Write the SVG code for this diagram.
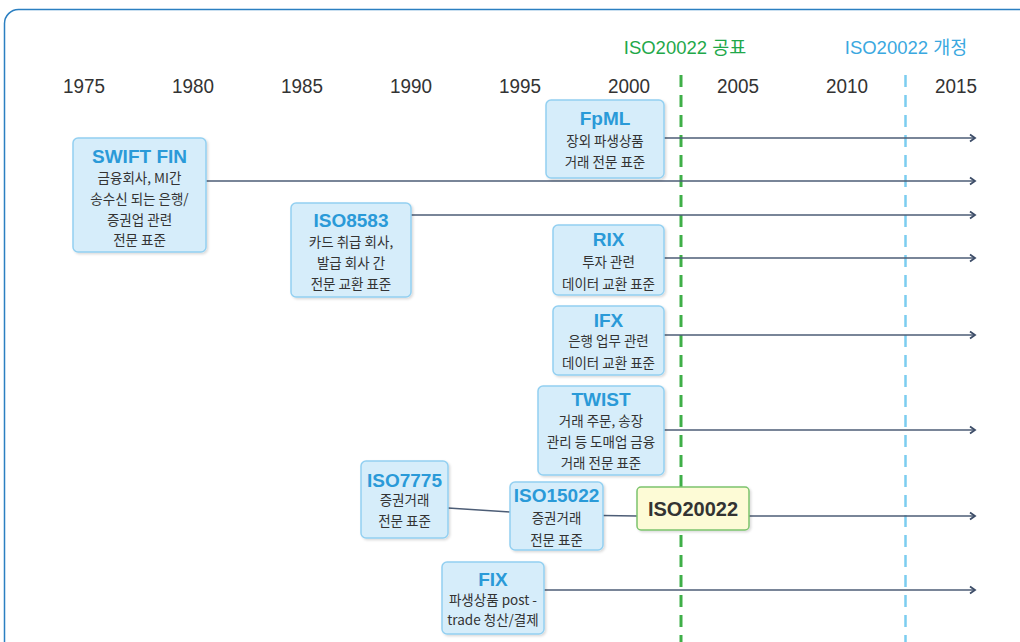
<svg xmlns="http://www.w3.org/2000/svg" width="1020" height="642" viewBox="0 0 1020 642">
<style>
.yr{font-family:"Liberation Sans",Arial,sans-serif;font-size:20px;fill:#333;text-anchor:middle}
.node rect{fill:#d6edfa;stroke:#93d0f1;stroke-width:1.5}
.tt{font-family:"Liberation Sans",Arial,sans-serif;font-weight:bold;font-size:19px;fill:#2a9ad8;text-anchor:middle}
.bd{font-family:"Noto Sans CJK KR","Liberation Sans",sans-serif;font-size:13.5px;fill:#333;text-anchor:middle}
.ln{stroke:#4d5d76;stroke-width:1.5;fill:none}
.arr{stroke:#4d5d76;stroke-width:1.5;fill:none;marker-end:url(#ah)}
.mk{font-family:"Liberation Sans","Noto Sans CJK KR",sans-serif;font-size:18.5px;text-anchor:middle}
</style>
<defs>
<marker id="ah" markerWidth="10" markerHeight="10" refX="7" refY="5" orient="auto" markerUnits="userSpaceOnUse">
<path d="M2,1.5 L7,5 L2,8.5" fill="none" stroke="#3d4d68" stroke-width="1.8"/>
</marker>
<filter id="sh" x="-10%" y="-10%" width="125%" height="125%">
<feDropShadow dx="1.5" dy="1.5" stdDeviation="1" flood-color="#000" flood-opacity="0.15"/>
</filter>
</defs>
<rect width="1020" height="642" fill="#fff"/>
<rect x="4.5" y="9.5" width="1040" height="660" rx="14" fill="none" stroke="#2b7fc1" stroke-width="1.5"/>

<g id="years">
<text class="yr" x="84" y="93" textLength="42" lengthAdjust="spacingAndGlyphs">1975</text>
<text class="yr" x="193" y="93" textLength="42" lengthAdjust="spacingAndGlyphs">1980</text>
<text class="yr" x="302" y="93" textLength="42" lengthAdjust="spacingAndGlyphs">1985</text>
<text class="yr" x="411" y="93" textLength="42" lengthAdjust="spacingAndGlyphs">1990</text>
<text class="yr" x="520" y="93" textLength="42" lengthAdjust="spacingAndGlyphs">1995</text>
<text class="yr" x="629" y="93" textLength="42" lengthAdjust="spacingAndGlyphs">2000</text>
<text class="yr" x="738" y="93" textLength="42" lengthAdjust="spacingAndGlyphs">2005</text>
<text class="yr" x="847" y="93" textLength="42" lengthAdjust="spacingAndGlyphs">2010</text>
<text class="yr" x="956" y="93" textLength="42" lengthAdjust="spacingAndGlyphs">2015</text>
</g>
<g id="milestones">
<text class="mk" x="685" y="54" fill="#1fa84a">ISO20022 공표</text>
<text class="mk" x="906" y="54" fill="#3aa8e0">ISO20022 개정</text>
<line x1="681" y1="75" x2="681" y2="642" stroke="#3faf48" stroke-width="3" stroke-dasharray="12,8"/>
<line x1="905.5" y1="75" x2="905.5" y2="642" stroke="#7ccdf0" stroke-width="2.5" stroke-dasharray="12,8"/>
</g>

<g id="connectors">
<line class="arr" x1="664" y1="138" x2="975" y2="138"/>
<line class="arr" x1="206" y1="181" x2="975" y2="181"/>
<line class="arr" x1="411" y1="215" x2="975" y2="215"/>
<line class="arr" x1="664" y1="258" x2="975" y2="258"/>
<line class="arr" x1="664" y1="335" x2="975" y2="335"/>
<line class="arr" x1="664" y1="430" x2="975" y2="430"/>
<line class="ln" x1="448" y1="508" x2="510" y2="512"/>
<line class="ln" x1="603" y1="515.5" x2="637" y2="516"/>
<line class="arr" x1="749" y1="516" x2="975" y2="516"/>
<line class="arr" x1="544" y1="590" x2="975" y2="590"/>
</g>

<g id="n-fpml" class="node"><rect x="546" y="100" width="118" height="78" rx="5" filter="url(#sh)"/>
<text class="tt" x="605" y="125">FpML</text>
<text class="bd" x="605" y="146">장외 파생상품</text>
<text class="bd" x="605" y="167">거래 전문 표준</text></g>

<g id="n-swift" class="node"><rect x="73" y="138" width="133" height="114" rx="5" filter="url(#sh)"/>
<text class="tt" x="139.5" y="163">SWIFT FIN</text>
<text class="bd" x="139.5" y="183">금융회사, MI간</text>
<text class="bd" x="139.5" y="204">송수신 되는 은행/</text>
<text class="bd" x="139.5" y="225">증권업 관련</text>
<text class="bd" x="139.5" y="245">전문 표준</text></g>

<g id="n-iso8583" class="node"><rect x="291" y="203" width="120" height="94" rx="5" filter="url(#sh)"/>
<text class="tt" x="351" y="227">ISO8583</text>
<text class="bd" x="351" y="247">카드 취급 회사,</text>
<text class="bd" x="351" y="268">발급 회사 간</text>
<text class="bd" x="351" y="289">전문 교환 표준</text></g>

<g id="n-rix" class="node"><rect x="553" y="225" width="111" height="70" rx="5" filter="url(#sh)"/>
<text class="tt" x="608.5" y="246">RIX</text>
<text class="bd" x="608.5" y="267">투자 관련</text>
<text class="bd" x="608.5" y="289">데이터 교환 표준</text></g>

<g id="n-ifx" class="node"><rect x="553" y="306" width="111" height="69" rx="5" filter="url(#sh)"/>
<text class="tt" x="608.5" y="327">IFX</text>
<text class="bd" x="608.5" y="346">은행 업무 관련</text>
<text class="bd" x="608.5" y="368">데이터 교환 표준</text></g>

<g id="n-twist" class="node"><rect x="538" y="386" width="126" height="89" rx="5" filter="url(#sh)"/>
<text class="tt" x="601" y="406">TWIST</text>
<text class="bd" x="601" y="426">거래 주문, 송장</text>
<text class="bd" x="601" y="447">관리 등 도매업 금융</text>
<text class="bd" x="601" y="468">거래 전문 표준</text></g>

<g id="n-iso7775" class="node"><rect x="361" y="461" width="87" height="77" rx="5" filter="url(#sh)"/>
<text class="tt" x="404.5" y="487">ISO7775</text>
<text class="bd" x="404.5" y="505">증권거래</text>
<text class="bd" x="404.5" y="526">전문 표준</text></g>

<g id="n-iso15022" class="node"><rect x="510" y="482" width="93" height="68" rx="5" filter="url(#sh)"/>
<text class="tt" x="556.5" y="502">ISO15022</text>
<text class="bd" x="556.5" y="523">증권거래</text>
<text class="bd" x="556.5" y="545">전문 표준</text></g>

<g id="n-iso20022"><rect x="637" y="487" width="112" height="43" rx="4" fill="#fdfbd6" stroke="#7cc46e" stroke-width="1.5" filter="url(#sh)"/>
<text x="693" y="516" font-family="Liberation Sans,Arial,sans-serif" font-weight="bold" font-size="20" fill="#333" text-anchor="middle">ISO20022</text></g>

<g id="n-fix" class="node"><rect x="442" y="562" width="102" height="72" rx="5" filter="url(#sh)"/>
<text class="tt" x="493" y="586">FIX</text>
<text class="bd" x="493" y="605">파생상품 post -</text>
<text class="bd" x="493" y="625">trade 청산/결제</text></g>
</svg>
